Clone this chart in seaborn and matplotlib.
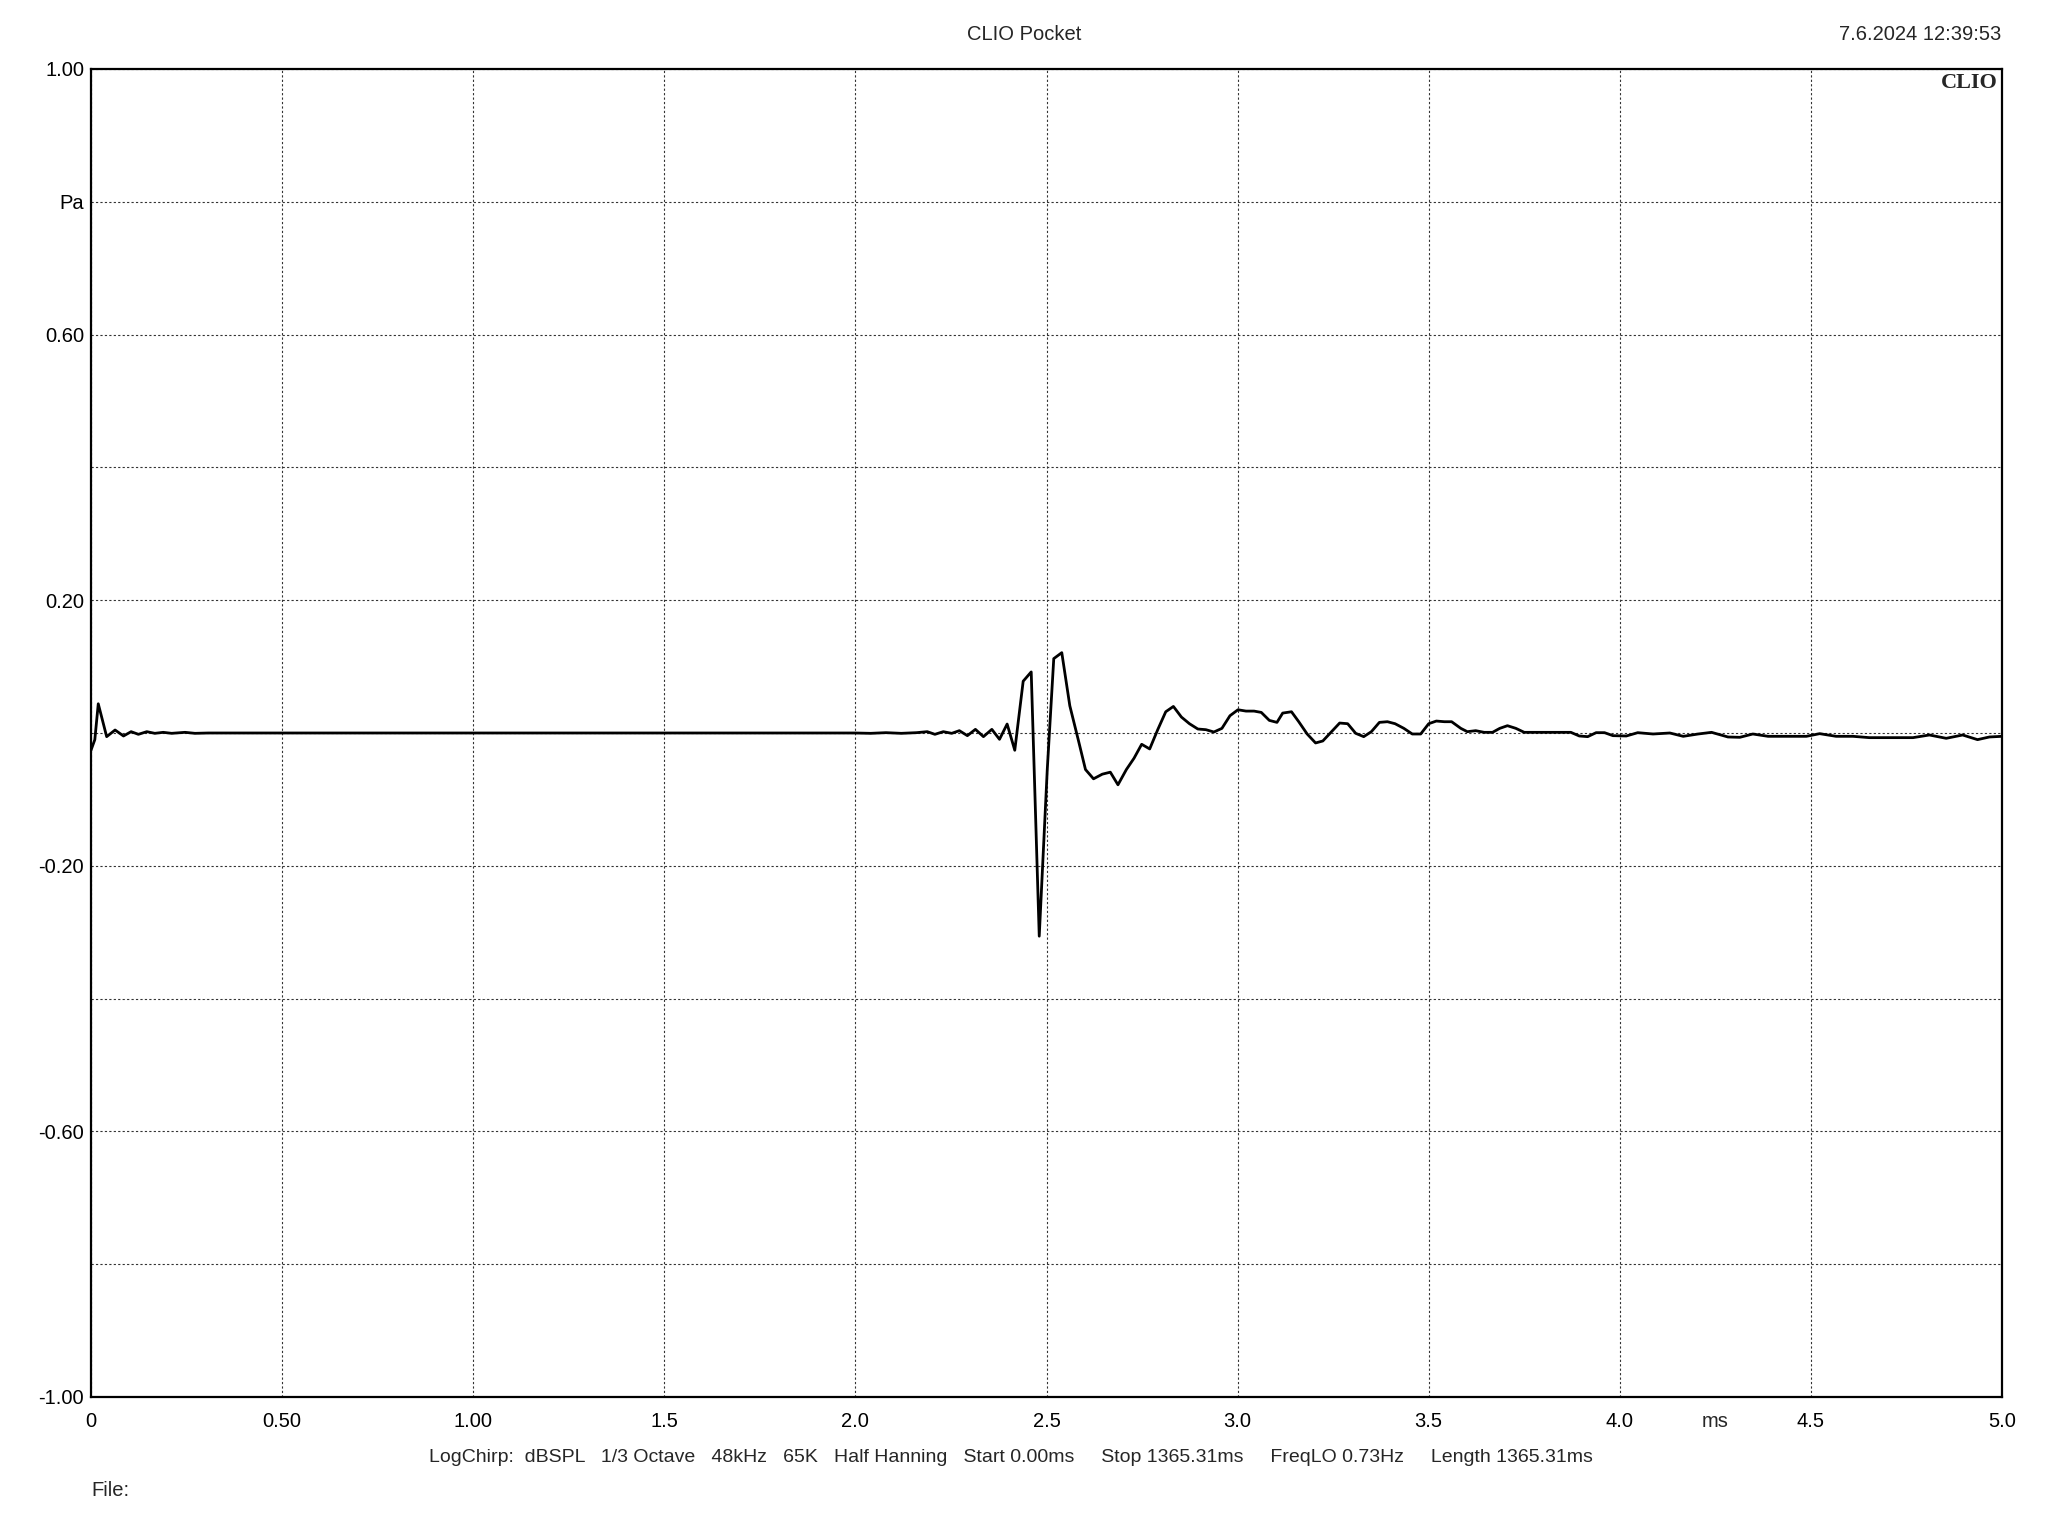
import numpy as np
import pandas as pd
import matplotlib
matplotlib.use("Agg")
import matplotlib.pyplot as plt
import seaborn as sns

# impulse response (time in ms, pressure in Pa)
time_ms = [
    0.000, 0.010, 0.019, 0.041, 0.063, 0.085, 0.105, 0.124, 0.146, 0.167,
    0.189, 0.211, 0.246, 0.272, 0.307, 1.000, 1.999, 2.040, 2.080, 2.120,
    2.160, 2.188, 2.208, 2.230, 2.252, 2.272, 2.293, 2.314, 2.335, 2.357,
    2.377, 2.397, 2.417, 2.439, 2.460, 2.481, 2.502, 2.519, 2.540, 2.561,
    2.583, 2.602, 2.623, 2.646, 2.667, 2.687, 2.709, 2.729, 2.749, 2.770,
    2.791, 2.812, 2.832, 2.853, 2.874, 2.896, 2.917, 2.938, 2.959, 2.980,
    3.001, 3.022, 3.043, 3.062, 3.083, 3.103, 3.118, 3.141, 3.160, 3.182,
    3.204, 3.223, 3.246, 3.267, 3.288, 3.309, 3.330, 3.350, 3.371, 3.392,
    3.412, 3.435, 3.457, 3.479, 3.500, 3.520, 3.541, 3.560, 3.584, 3.601,
    3.623, 3.645, 3.667, 3.686, 3.706, 3.728, 3.750, 3.872, 3.894, 3.916,
    3.938, 3.960, 3.982, 4.017, 4.047, 4.087, 4.131, 4.166, 4.205, 4.240,
    4.283, 4.314, 4.348, 4.388, 4.427, 4.488, 4.523, 4.566, 4.610, 4.653,
    4.714, 4.767, 4.810, 4.854, 4.897, 4.936, 4.967, 5.000,
]
pressure_pa = [
    -0.026, -0.010, 0.044, -0.0055, 0.0045, -0.0045, 0.002, -0.002, 0.002, -0.0005,
    0.001, -0.0005, 0.001, -0.0005, 0.0, 0.0, 0.0, -0.0005, 0.0005, -0.0005,
    0.0005, 0.002, -0.002, 0.002, -0.0005, 0.0035, -0.004, 0.0055, -0.0055, 0.0055,
    -0.0095, 0.0135, -0.026, 0.078, 0.092, -0.306, -0.055, 0.112, 0.121, 0.041,
    -0.010, -0.055, -0.069, -0.062, -0.059, -0.078, -0.055, -0.038, -0.017, -0.024,
    0.005, 0.032, 0.040, 0.024, 0.014, 0.006, 0.005, 0.0015, 0.007, 0.026,
    0.035, 0.033, 0.033, 0.031, 0.019, 0.016, 0.030, 0.032, 0.017, -0.0015,
    -0.015, -0.012, 0.002, 0.015, 0.014, -0.0005, -0.0055, 0.002, 0.016, 0.017,
    0.014, 0.007, -0.0015, -0.0015, 0.014, 0.018, 0.017, 0.017, 0.007, 0.002,
    0.0035, 0.001, 0.001, 0.007, 0.011, 0.007, 0.001, 0.001, -0.0045, -0.0055,
    0.0005, 0.0005, -0.004, -0.0045, 0.0005, -0.0015, 0.0, -0.005, -0.0015, 0.001,
    -0.006, -0.0065, -0.0015, -0.005, -0.005, -0.005, -0.001, -0.005, -0.005, -0.007,
    -0.007, -0.007, -0.003, -0.008, -0.003, -0.010, -0.006, -0.005,
]

x_ticks = [0, 0.5, 1.0, 1.5, 2.0, 2.5, 3.0, 3.5, 4.0, 4.5, 5.0]
x_labels = ["0", "0.50", "1.00", "1.5", "2.0", "2.5", "3.0", "3.5", "4.0", "4.5", "5.0"]
y_ticks = [-1.0, -0.8, -0.6, -0.4, -0.2, 0.0, 0.2, 0.4, 0.6, 0.8, 1.0]
y_labels = ["-1.00", "", "-0.60", "", "-0.20", "", "0.20", "", "0.60", "Pa", "1.00"]

footer = ("LogChirp:  dBSPL   1/3 Octave   48kHz   65K   Half Hanning   Start 0.00ms"
          "     Stop 1365.31ms     FreqLO 0.73Hz     Length 1365.31ms")

sns.set_style("white")
plt.rcParams["font.family"] = ["Liberation Sans", "DejaVu Sans"]

FS = 14.5

df = pd.DataFrame({"t": time_ms, "p": pressure_pa})

fig = plt.figure(figsize=(20.48, 15.36), dpi=100)
ax = fig.add_axes([91 / 2048, 1 - 1397 / 1536, 1911 / 2048, 1328 / 1536])

sns.lineplot(data=df, x="t", y="p", ax=ax, color="black", linewidth=2.0,
             sort=False, estimator=None)

ax.set_xlim(0, 5.0)
ax.set_ylim(-1.0, 1.0)
ax.set_xticks(x_ticks)
ax.set_xticklabels(x_labels)
ax.set_yticks(y_ticks)
ax.set_yticklabels(y_labels)
ax.set_xlabel("")
ax.set_ylabel("")
ax.tick_params(axis="both", direction="out", length=3, width=1, color="black",
               labelsize=FS, labelcolor="black")
ax.tick_params(axis="x", pad=8)
ax.tick_params(axis="y", pad=2)

ax.grid(True, color="#333333", linestyle=(0, (2, 2)), linewidth=0.8)
for s in ax.spines.values():
    s.set_color("black")
    s.set_linewidth(1.6)

# unit label on the x axis, level with the tick labels
ax.annotate("ms", xy=(4.25, 0), xycoords=ax.get_xaxis_transform(),
            xytext=(0, -11), textcoords="offset points",
            ha="center", va="top", fontsize=FS)

# CLIO logo in the corner of the plot
ax.text(0.998, 0.997, "CLIO", transform=ax.transAxes, ha="right", va="top",
        fontsize=16, fontweight="bold", family="Liberation Serif")

fig.text(1024 / 2048, 1 - 35 / 1536, "CLIO Pocket", ha="center", va="center", fontsize=FS)
fig.text(2001 / 2048, 1 - 35 / 1536, "7.6.2024 12:39:53", ha="right", va="center", fontsize=FS)
fig.text(1011 / 2048, 1 - 1457 / 1536, footer, ha="center", va="center", fontsize=14)
fig.text(91 / 2048, 1 - 1490 / 1536, "File:", ha="left", va="center", fontsize=FS)

fig.savefig("out.png", dpi=100, facecolor="white")
